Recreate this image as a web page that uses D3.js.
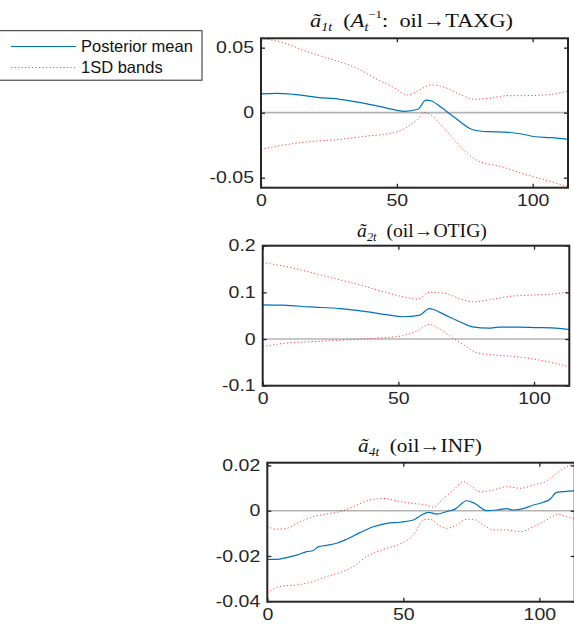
<!DOCTYPE html>
<html><head><meta charset="utf-8">
<script src="https://cdn.jsdelivr.net/npm/d3@7"></script>
<style>
html,body{margin:0;padding:0;background:#fff;overflow:hidden}
svg{display:block}
</style></head>
<body>
<svg id="c" width="574" height="624"></svg>
<script>
// ---- data ----
// Panel 1: a1t (A_t^-1: oil -> TAXG)
const p1MeanT  = [0,5.8,12,20.6,29,36.7,44,50,52.7,57.7,60.7,62.6,66.3,71.2,78,83.6,89.8,96,100.9,107,113];
const p1MeanV  = [0.0144,0.0149,0.0141,0.0118,0.0103,0.0077,0.0046,0.0018,0.001,0.0026,0.0097,0.0092,0.0041,-0.0036,-0.0131,-0.0146,-0.0149,-0.0164,-0.0185,-0.0192,-0.0205];
const p1UpT    = [0,8.3,17,26.8,35.4,42.8,49,54,57.7,62.6,67.5,73.7,78.6,83.6,91,97.2,104.6,113];
const p1UpV    = [0.0572,0.0538,0.0469,0.0405,0.0341,0.0256,0.0192,0.0136,0.0167,0.0213,0.0195,0.0136,0.0103,0.011,0.0131,0.0131,0.0136,0.0167];
const p1LoT    = [0,8.3,18,29,39,47.8,54,57.7,60,62.6,66.3,71.2,76,80,88.5,96,104.6,113];
const p1LoV    = [-0.0282,-0.0249,-0.0223,-0.0205,-0.018,-0.0159,-0.0108,-0.0049,0,-0.0018,-0.0095,-0.021,-0.0313,-0.0372,-0.0415,-0.0467,-0.0518,-0.0569];
const p1YTicks = [-0.05,0,0.05];
const p1YLabels = ["-0.05","0","0.05"];
const p1YDomain = [-0.0577,0.0572];

// Panel 2: a2t (oil -> OTIG)
const p2MeanT  = [0,7.6,17.4,28.4,38.1,45.5,51.6,57.7,61.4,62.6,67.5,72.4,77.3,83.4,87,94.4,100.5,106.6,113];
const p2MeanV  = [0.0732,0.0725,0.0688,0.0652,0.0587,0.0522,0.0478,0.0507,0.0652,0.0638,0.0507,0.0377,0.0261,0.0232,0.0254,0.0254,0.0246,0.0239,0.0203];
const p2UpT    = [0,7.6,16.2,26,35.8,44.4,52.9,57.2,61.4,66.4,72.5,77.4,83.6,91,99.5,106.9,113];
const p2UpV    = [0.1638,0.1565,0.145,0.1304,0.1159,0.1014,0.0891,0.0855,0.1,0.0986,0.087,0.0797,0.0841,0.0913,0.0942,0.0964,0.1014];
const p2LoT    = [0,8.8,19.8,32,43,51.6,56.6,61.4,65.2,70,75,78.7,84.8,93.3,101.8,113];
const p2LoV    = [-0.0159,-0.0087,-0.0051,-0.0014,0.0022,0.0072,0.0167,0.0312,0.0217,0.0022,-0.0159,-0.029,-0.034,-0.0377,-0.0449,-0.0594];
const p2YTicks = [-0.1,0,0.1,0.2];
const p2YLabels = ["-0.1","0","0.1","0.2"];
const p2YDomain = [-0.1,0.2];

// Panel 3: a4t (oil -> INF)
const p3MeanT  = [0,3.4,7.1,10.8,14.5,16.9,18.8,21.8,25.5,29.2,34,39,43.9,48.8,53.7,56.7,59.2,62.3,65.9,69,73.3,76.3,80.6,84.3,88,90.4,94.1,97.8,101.5,103.9,106.4,113];
const p3MeanV  = [-0.0215,-0.0215,-0.0207,-0.0196,-0.0181,-0.0176,-0.0159,-0.0153,-0.0144,-0.0126,-0.0097,-0.0071,-0.0056,-0.0051,-0.0041,-0.0019,-0.0007,-0.0015,-0.0004,0.0007,0.0044,0.0032,0,0.0003,0.0009,0.0003,0.0009,0.0025,0.0037,0.0051,0.0081,0.0088];
const p3UpT    = [0,3.4,7.1,12,16.9,21.8,26.7,31.6,36.5,42.6,48.8,53.7,58.6,61,64.7,68.4,72.1,74.5,78.2,83.1,88,92.9,97.8,102.7,106.4,110,113];
const p3UpV    = [-0.0068,-0.0082,-0.0078,-0.0049,-0.0026,-0.0015,-0.0004,0.0018,0.0043,0.0054,0.004,0.0032,0.0025,0.0015,0.0054,0.0091,0.0128,0.0113,0.0084,0.0091,0.0106,0.0099,0.0113,0.0132,0.0165,0.0194,0.0209];
const p3LoT    = [0,4.7,10.8,16.9,21.8,26.7,31.6,36.5,42.6,48.8,53.7,57.4,59.8,63.5,65.9,69.6,73.3,75.7,79.4,83.1,88,92.9,97.8,102.7,107,110,113];
const p3LoV    = [-0.0362,-0.0335,-0.0328,-0.0313,-0.0291,-0.0274,-0.0247,-0.0203,-0.0171,-0.0147,-0.0107,-0.0041,-0.0038,-0.0068,-0.0078,-0.0063,-0.0038,-0.0038,-0.0063,-0.0085,-0.0085,-0.0093,-0.0071,-0.0041,-0.0016,-0.0026,-0.0037];
const p3YTicks = [-0.04,-0.02,0,0.02];
const p3YLabels = ["-0.04","-0.02","0","0.02"];
const p3YDomain = [-0.0402,0.0212];

const xTicks = [0,50,100];
const xTickLabels = ["0","50","100"];
const xDomain = [0,113];

const legendLabels = ["Posterior mean","1SD bands"];

// ---- drawing ----
const svg = d3.select("#c");
const FONT = "'Liberation Sans', Arial, sans-serif";
const SERIF = "'Liberation Serif', 'Times New Roman', serif";
const BLUE = "#0072BD", RED = "#ff2020", AX = "#262626";
const SX = 1.22; // horizontal stretch of tick labels

const panels = [
  {box:{l:261,r:568,t:38.3,b:187.7}, yd:p1YDomain, yt:p1YTicks, yl:p1YLabels,
   mean:[p1MeanT,p1MeanV], up:[p1UpT,p1UpV], lo:[p1LoT,p1LoV], title:"t1", titleY:27, tw:203, tcx:411.5},
  {box:{l:262.7,r:569.3,t:245.7,b:385.7}, yd:p2YDomain, yt:p2YTicks, yl:p2YLabels,
   mean:[p2MeanT,p2MeanV], up:[p2UpT,p2UpV], lo:[p2LoT,p2LoV], title:"t2", titleY:237, tw:130, tcx:422},
  {box:{l:267.3,r:574.7,t:462.7,b:601.7}, yd:p3YDomain, yt:p3YTicks, yl:p3YLabels,
   mean:[p3MeanT,p3MeanV], up:[p3UpT,p3UpV], lo:[p3LoT,p3LoV], title:"t3", titleY:452, tw:124, tcx:420}
];

function zip(a){ return a[0].map((t,i)=>[t,a[1][i]]); }

panels.forEach(p=>{
  const B=p.box;
  const x=d3.scaleLinear().domain(xDomain).range([B.l,B.r]);
  const y=d3.scaleLinear().domain(p.yd).range([B.b,B.t]);
  const g=svg.append("g");
  // zero line
  g.append("line").attr("x1",B.l).attr("x2",B.r).attr("y1",y(0)).attr("y2",y(0))
    .attr("stroke","#b4b4b4").attr("stroke-width",1.6);
  const line=d3.line().x(d=>x(d[0])).y(d=>y(d[1])).curve(d3.curveMonotoneX);
  [p.up,p.lo].forEach(s=>{
    g.append("path").attr("d",line(zip(s))).attr("fill","none").attr("stroke",RED)
      .attr("stroke-width",1).attr("stroke-dasharray","1.2,2.3").attr("opacity",0.85);
  });
  g.append("path").attr("d",line(zip(p.mean))).attr("fill","none").attr("stroke",BLUE)
    .attr("stroke-width",1.2);
  // axes
  const ax=g.append("g").attr("transform",`translate(0,${B.b})`)
    .call(d3.axisBottom(x).tickValues(xTicks).tickFormat((d,i)=>xTickLabels[i]).tickSizeInner(-4).tickSizeOuter(0).tickPadding(7));
  const axT=g.append("g").attr("transform",`translate(0,${B.t})`)
    .call(d3.axisTop(x).tickValues(xTicks).tickFormat("").tickSizeInner(-4).tickSizeOuter(0));
  const ay=g.append("g").attr("transform",`translate(${B.l},0)`)
    .call(d3.axisLeft(y).tickValues(p.yt).tickFormat((d,i)=>p.yl[i]).tickSizeInner(-4).tickSizeOuter(0).tickPadding(7));
  const ayR=g.append("g").attr("transform",`translate(${B.r},0)`)
    .call(d3.axisRight(y).tickValues(p.yt).tickFormat("").tickSizeInner(-4).tickSizeOuter(0));
  [ax,axT,ay,ayR].forEach(a=>{
    a.select(".domain").remove();
    a.selectAll(".tick line").attr("stroke",AX).attr("stroke-width",1.3);
    a.selectAll("text").attr("fill",AX).style("font-family",FONT).style("font-size","16px");
  });
  ax.selectAll("text").attr("dy","0.71em").attr("transform",`scale(${SX},1)`);
  ay.selectAll("text").each(function(){
    const x0=+d3.select(this).attr("x");
    d3.select(this).attr("transform",`translate(${x0},0) scale(${SX},1) translate(${-x0},0)`);
  });
  // box
  g.append("rect").attr("x",B.l).attr("y",B.t).attr("width",B.r-B.l).attr("height",B.b-B.t)
    .attr("fill","none").attr("stroke",AX).attr("stroke-width",2);
  // title
  const tt=g.append("text").attr("x",p.tcx).attr("y",p.titleY).attr("text-anchor","middle")
    .style("font-family",SERIF).style("font-size","19px").attr("fill","#111");
  const sub=(s)=>tt.append("tspan").style("font-style","italic").style("font-size","12px").attr("dy",4).text(s);
  tt.append("tspan").style("font-style","italic").text("ã");
  if(p.title==="t1"){
    sub("1t");
    tt.append("tspan").attr("dy",-4).text("\u2002(");
    tt.append("tspan").style("font-style","italic").text("A");
    sub("t");
    tt.append("tspan").style("font-size","11px").attr("dy",-13).text("\u22121");
    tt.append("tspan").attr("dy",9).text(":\u2002oil\u2192TAXG)");
  } else if(p.title==="t2"){
    sub("2t");
    tt.append("tspan").attr("dy",-4).text("\u2002(oil\u2192OTIG)");
  } else {
    sub("4t");
    tt.append("tspan").attr("dy",-4).text("\u2002(oil\u2192INF)");
  }
  const bw=tt.node().getBBox().width;
  const s=p.tw/bw;
  tt.attr("transform",`translate(${p.tcx},0) scale(${s},1) translate(${-p.tcx},0)`);
});

// legend
const lg=svg.append("g");
lg.append("rect").attr("x",-2).attr("y",30.7).attr("width",204).attr("height",49.5)
  .attr("fill","#fff").attr("stroke",AX).attr("stroke-width",1);
const ly=d3.scaleBand().domain(legendLabels).range([36,78]);
legendLabels.forEach((lab,i)=>{
  const yy=ly(lab)+ly.bandwidth()/2;
  const l=lg.append("line").attr("x1",11).attr("x2",76).attr("y1",yy).attr("y2",yy);
  if(i===0) l.attr("stroke",BLUE).attr("stroke-width",1.2);
  else l.attr("stroke",RED).attr("stroke-width",1).attr("stroke-dasharray","1.2,2.3").attr("opacity",0.85);
  lg.append("text").attr("x",81).attr("y",yy).attr("dy","0.35em").attr("fill","#111")
    .style("font-family",FONT).style("font-size","16.5px").text(lab);
});
</script>
</body></html>
